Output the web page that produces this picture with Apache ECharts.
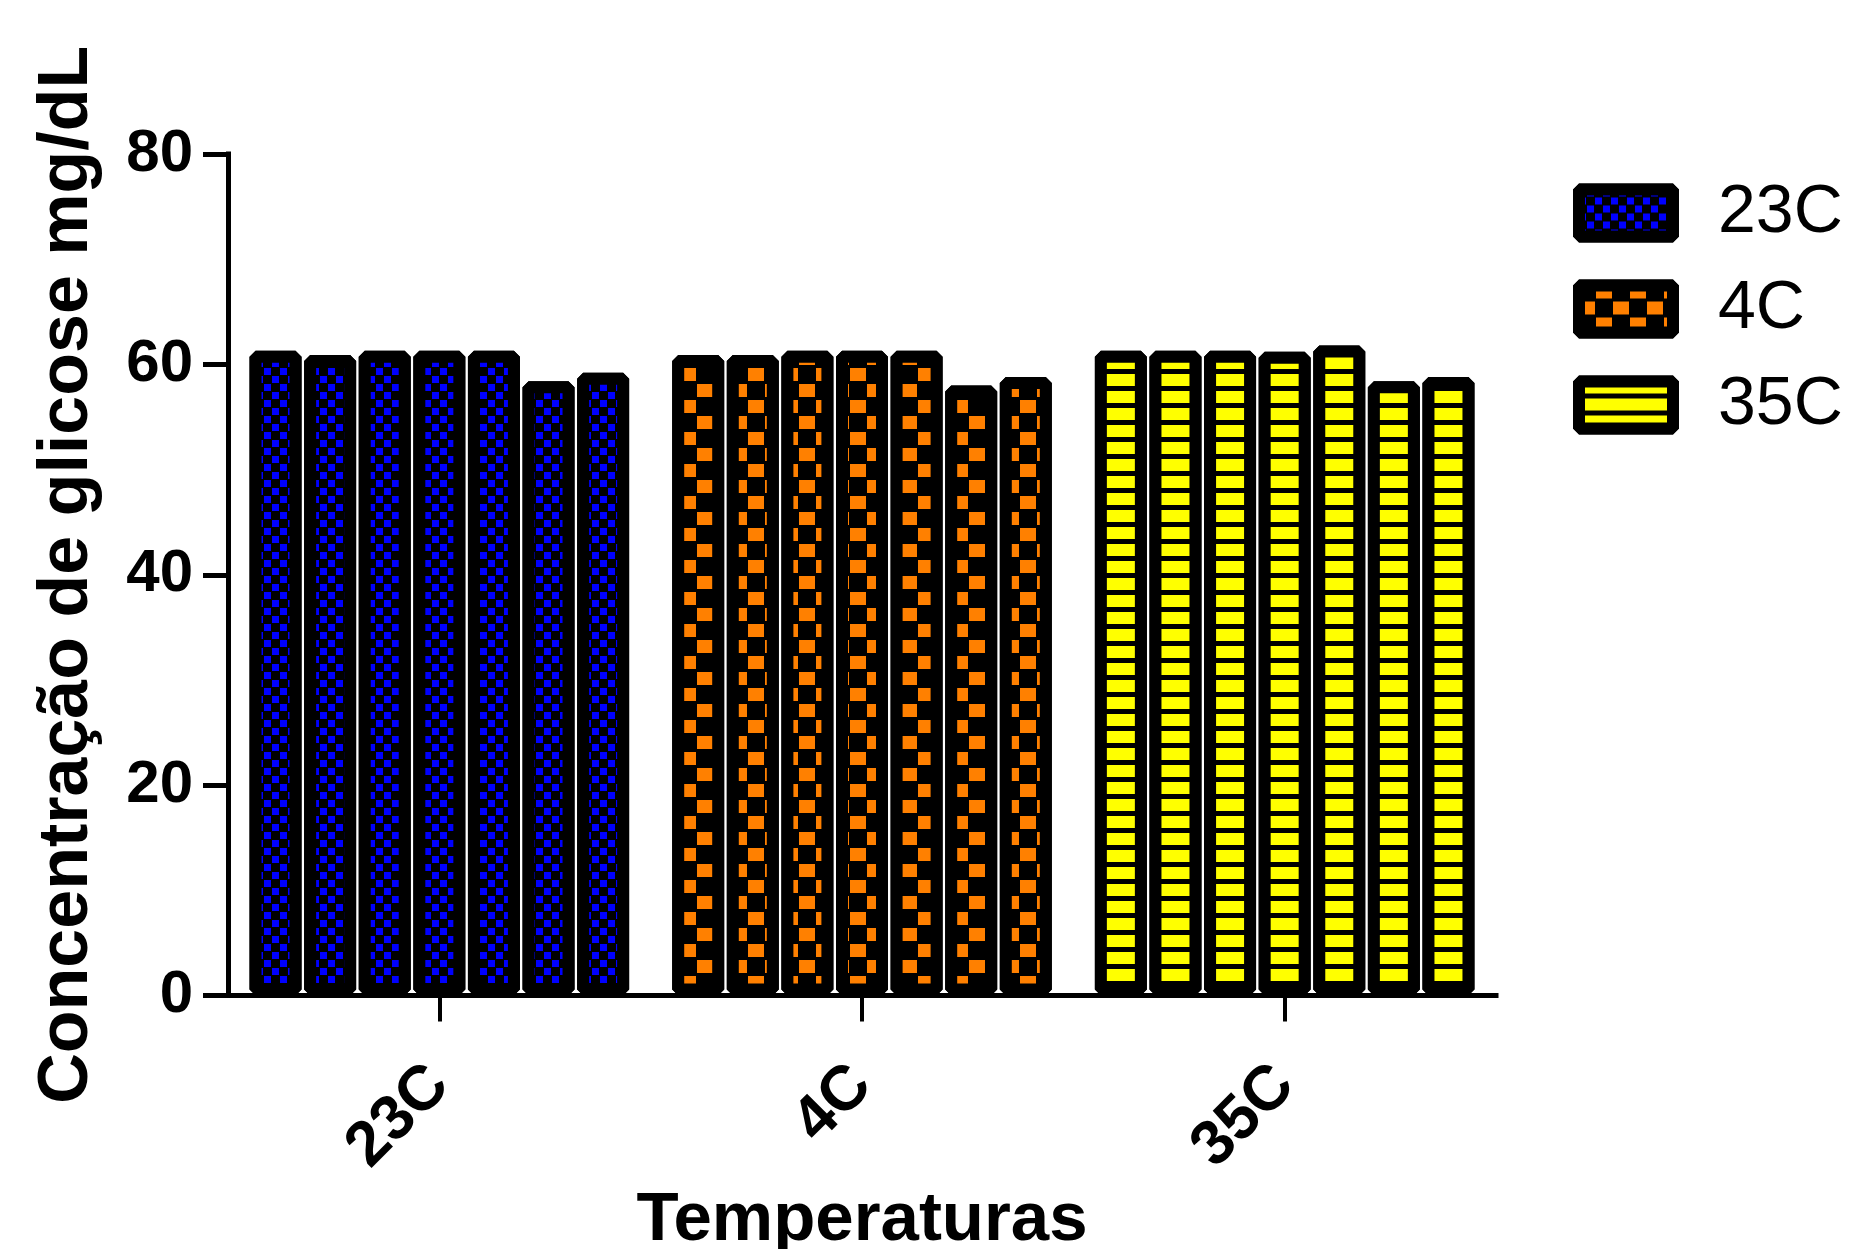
<!DOCTYPE html>
<html>
<head>
<meta charset="utf-8">
<script src="https://cdn.jsdelivr.net/npm/echarts@6/dist/echarts.min.js"></script>
<style>
html,body{margin:0;padding:0;background:#ffffff;}
#chart{width:1853px;height:1249px;}
</style>
</head>
<body>
<div id="chart"></div>
<script>
// ---- data ----
const categories = ['23C', '4C', '35C'];
const values23C = [61.3, 60.9, 61.3, 61.3, 61.3, 58.4, 59.2];
const values4C  = [60.9, 60.9, 61.3, 61.3, 61.3, 58.0, 58.8];
const values35C = [61.3, 61.3, 61.3, 61.2, 61.8, 58.4, 58.8];
const yTickValues = [0, 20, 40, 60, 80];
const xAxisTitle = 'Temperaturas';
const yAxisTitle = 'Concentração de glicose mg/dL';

// ---- styles ----
const FONT = '"Liberation Sans", Arial, sans-serif';
const groupValues = [values23C, values4C, values35C];
const patternColors = ['#0000ff', '#ff8000', '#ffff00'];
const decals = [
  { symbol: 'rect', symbolSize: 1, color: patternColors[0], dashArrayX: [[7, 9], [0, 8, 7, 1]], dashArrayY: [7, 1] },
  { symbol: 'rect', symbolSize: 1, color: patternColors[1], dashArrayX: [[16, 18], [0, 17, 16, 1]], dashArrayY: [13, 3] },
  { symbol: 'rect', symbolSize: 1, color: patternColors[2], dashArrayX: [1, 0], dashArrayY: [12, 4.5] }
];
function styleFor(k) {
  return { color: '#000000', borderColor: '#000000', borderWidth: 12, borderJoin: 'bevel', decal: decals[k] };
}

const nReps = values23C.length;
const series = [];
for (let i = 0; i < nReps; i++) {
  series.push({
    type: 'bar',
    name: 'rep' + (i + 1),
    xAxisIndex: 0, yAxisIndex: 0,
    barWidth: 52,
    barGap: '5%',
    silent: true,
    data: categories.map((c, k) => ({ value: groupValues[k][i], itemStyle: styleFor(k) }))
  });
}
// legend entries (one per temperature)
categories.forEach((c, k) => {
  series.push({
    type: 'bar', name: c, xAxisIndex: 1, yAxisIndex: 1,
    itemStyle: styleFor(k), data: []
  });
});

const chart = echarts.init(document.getElementById('chart'), null, { renderer: 'canvas' });
chart.setOption({
  backgroundColor: '#ffffff',
  animation: false,
  grid: { left: 228, right: 357, top: 154, bottom: 253.5, containLabel: false, outerBoundsMode: 'none' },
  legend: {
    orient: 'vertical', left: 1568, top: 174,
    itemWidth: 94, itemHeight: 47, itemGap: 28,
    icon: 'rect',
    selectedMode: false,
    data: categories,
    itemStyle: { borderWidth: 12, borderColor: '#000000' },
    textStyle: { fontFamily: FONT, fontSize: 68, color: '#000000', lineHeight: 68, padding: [0, 0, 0, 40] }
  },
  xAxis: [{
    type: 'category', data: categories,
    axisLine: { show: true, lineStyle: { color: '#000', width: 5, cap: 'square' } },
    axisTick: { show: true, alignWithLabel: true, length: 26, lineStyle: { color: '#000', width: 4 } },
    axisLabel: { rotate: 45, margin: 80, fontFamily: FONT, fontSize: 63, fontWeight: 'bold', color: '#000' },
    splitLine: { show: false },
    name: xAxisTitle, nameLocation: 'middle', nameGap: 190,
    nameTextStyle: { fontFamily: FONT, fontSize: 69, fontWeight: 'bold', color: '#000' }
  }, {
    type: 'category', data: categories, show: false
  }],
  yAxis: [{
    type: 'value', min: yTickValues[0], max: yTickValues[yTickValues.length - 1], interval: yTickValues[1] - yTickValues[0],
    axisLine: { show: true, lineStyle: { color: '#000', width: 5, cap: 'square' } },
    axisTick: { show: true, length: 25, lineStyle: { color: '#000', width: 5 } },
    axisLabel: { margin: 35, fontFamily: FONT, fontSize: 60, fontWeight: 'bold', color: '#000' },
    splitLine: { show: false },
    name: yAxisTitle, nameLocation: 'middle', nameGap: 125, nameRotate: 90,
    nameTextStyle: { fontFamily: FONT, fontSize: 70, fontWeight: 'bold', color: '#000' }
  }, {
    type: 'value', show: false, min: 0, max: 80
  }],
  series: series
});
</script>
</body>
</html>
